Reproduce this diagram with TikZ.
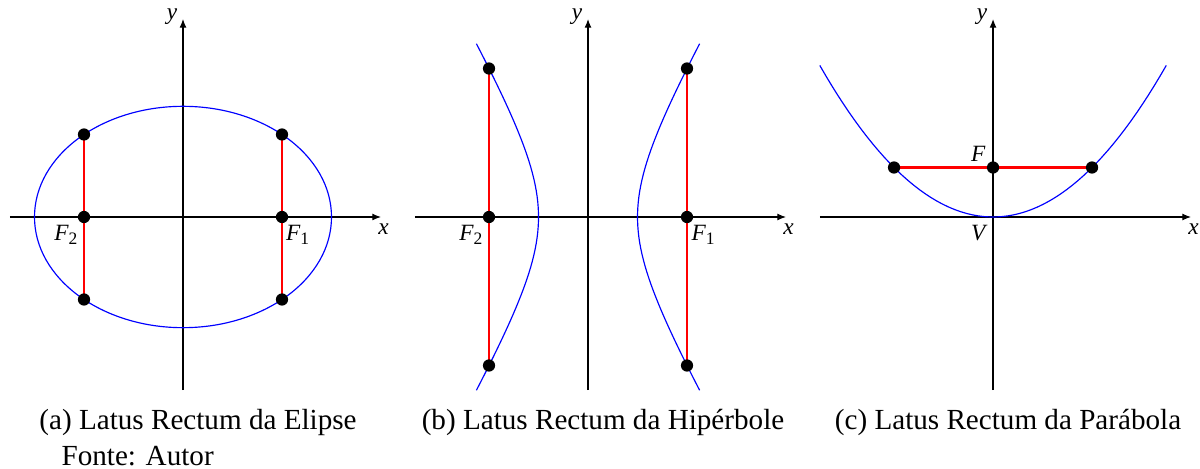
\documentclass[tikz,border=0pt]{standalone}
\usepackage{fontspec}
\setmainfont{Liberation Serif}
\usetikzlibrary{arrows.meta,positioning}

\tikzset{
  eixo/.style={-{Latex[length=3pt,width=2.4pt]}},
  curva/.style={blue},
  latus/.style={red},
  ponto/.style={circle,fill=black,inner sep=0pt,minimum size=4.2pt},
  rot/.style={font=\footnotesize\itshape,inner sep=0pt},
  legenda/.style={anchor=base,inner sep=0pt},
}
\newcommand{\foco}[1]{F\textsubscript{\upshape #1}}

\begin{document}
\begin{tikzpicture}[x=0.5971cm,y=0.5971cm,thin]
  \useasboundingbox (0,0) rectangle (24.242,9.4545);

  % (a) elipse
  \begin{scope}[shift={(3.697,5.071)}]
    \draw[eixo] (-3.5,0)--(4,0);
    \draw[eixo] (0,-3.5)--(0,4);
    \node[rot] (xa) at (4.05,-0.24) {x};
    \node[rot] (ya) at (-0.22,4.04) {y};
    \draw[curva] (0,0) ellipse [x radius=3,y radius=2.236];
    \coordinate (a1) at (2,1.667);
    \coordinate (a2) at (2,-1.667);
    \coordinate (a3) at (-2,1.667);
    \coordinate (a4) at (-2,-1.667);
    \draw[latus] (a1)--(a2);
    \draw[latus] (a3)--(a4);
    \node[ponto] (fa1) at (2,0) {};
    \node[ponto] (fa2) at (-2,0) {};
    \node[ponto] at (a1) {}; \node[ponto] at (a2) {};
    \node[ponto] at (a3) {}; \node[ponto] at (a4) {};
    \node[rot] at (2.33,-0.36) {\foco{1}};
    \node[rot] at (-2.35,-0.36) {\foco{2}};
    \node[legenda] (capa) at (0.303,-4.303) {(a) Latus Rectum da Elipse};
  \end{scope}

  % (b) hiperbole
  \begin{scope}[shift={(11.879,5.071)}]
    \draw[eixo] (-3.5,0)--(4,0);
    \draw[eixo] (0,-3.5)--(0,4);
    \node[rot] (xb) at (4.05,-0.24) {x};
    \node[rot] (yb) at (-0.22,4.04) {y};
    \draw[curva,domain=-3.5:3.5,samples=60] plot ({sqrt(1+\x*\x/3)},\x);
    \draw[curva,domain=-3.5:3.5,samples=60] plot ({-sqrt(1+\x*\x/3)},\x);
    \coordinate (b1) at (2,3);
    \coordinate (b2) at (2,-3);
    \coordinate (b3) at (-2,3);
    \coordinate (b4) at (-2,-3);
    \draw[latus] (b1)--(b2);
    \draw[latus] (b3)--(b4);
    \node[ponto] (fb1) at (2,0) {};
    \node[ponto] (fb2) at (-2,0) {};
    \node[ponto] at (b1) {}; \node[ponto] at (b2) {};
    \node[ponto] at (b3) {}; \node[ponto] at (b4) {};
    \node[rot] at (2.34,-0.36) {\foco{1}};
    \node[rot] at (-2.35,-0.36) {\foco{2}};
    \node[legenda] (capb) at (0.303,-4.303) {(b) Latus Rectum da Hipérbole};
  \end{scope}

  % (c) parabola
  \begin{scope}[shift={(20.061,5.071)}]
    \draw[eixo] (-3.5,0)--(4,0);
    \draw[eixo] (0,-3.5)--(0,4);
    \node[rot] (xc) at (4.05,-0.24) {x};
    \node[rot] (yc) at (-0.22,4.04) {y};
    \draw[curva,domain=-3.5:3.5,samples=60] plot (\x,{\x*\x/4});
    \coordinate (c1) at (-2,1);
    \coordinate (c2) at (2,1);
    \draw[latus,line width=0.8pt] (c1)--(c2);
    \node[ponto] (fc) at (0,1) {};
    \node[ponto] at (c1) {}; \node[ponto] at (c2) {};
    \node[rot] at (-0.3,1.27) {F};
    \node[rot] at (-0.3,-0.32) {V};
    \node[legenda] (capc) at (0.303,-4.303) {(c) Latus Rectum da Parábola};
  \end{scope}

  \node[anchor=base west,inner sep=0pt] (fonte) at (1.232,0.06) {Fonte: Autor};
\end{tikzpicture}
\end{document}
